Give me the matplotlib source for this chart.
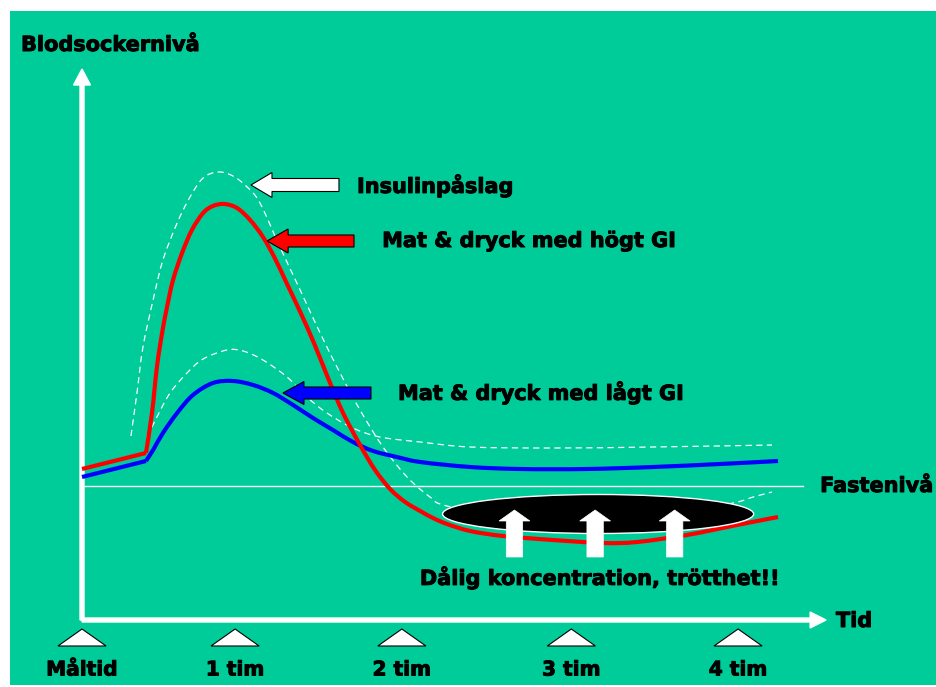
import matplotlib
matplotlib.use('Agg')
import matplotlib.pyplot as plt
import matplotlib.patches as mpatches
import matplotlib.patheffects as pe
from matplotlib.path import Path

# time in minutes after the meal, blood sugar in arbitrary units above the time axis
red_t = [0, 23.4, 25.6, 27.4, 29.3, 31.1, 33.3, 36.6, 40.2, 44.3, 47.9, 52.0, 56.7, 61.5,
         66.2, 70.5, 75.0, 80.0, 85.0, 90.0, 95.5, 101.7, 107.2, 112.7, 118.2, 123.7,
         128.4, 133.5, 142.0, 154.0, 172.3, 190.6, 203.0, 221.3, 239.6, 254.6]
red_y = [151, 167, 207, 253, 287, 313, 340, 367, 390, 407, 414, 416, 412, 400,
         383, 362, 336, 307, 276, 242, 207, 175, 150, 131, 118, 109,
         102, 96, 89, 84, 80, 77, 78, 85, 95, 103]

blue_t = [0, 23.4, 26.0, 29.6, 34.8, 40.6, 47.9, 55.2, 62.6, 69.9, 77.2, 84.5, 91.8,
          99.1, 106.5, 115.2, 123.7, 142.0, 160.2, 184.8, 208.9, 233.4, 254.6]
blue_y = [143, 159, 170, 187, 207, 225, 237, 239, 235, 227, 215, 202, 190,
          178, 169, 163, 158, 153, 151, 151, 153, 156, 159]

# insulin response, high GI (dashed)
ins_high_t = [17.9, 20.1, 22.3, 26.0, 29.6, 34.8, 39.5, 44.3, 49.8, 55.2, 60.4, 65.1,
              72.4, 79.8, 87.1, 94.4, 101.7, 110.1, 118.9, 127.3, 133.5, 160.2, 189.5,
              218.8, 238.2, 245.5, 252.4]
ins_high_y = [184, 227, 273, 320, 360, 397, 423, 442, 448, 444, 433, 417,
              373, 330, 287, 247, 210, 173, 143, 123, 114, 100, 95,
              108, 117, 123, 128]

# insulin response, low GI (dashed)
ins_low_t = [23.8, 27.4, 32.2, 38.4, 44.3, 53.0, 58.9, 66.2, 75.0, 82.3, 89.6, 99.1,
             109.0, 123.7, 142.0, 172.3, 208.9, 252.4]
ins_low_y = [183, 203, 227, 247, 261, 270, 269, 260, 243, 223, 207, 192,
             183, 178, 173, 172, 173, 175]

fasting_level = 134
fasting_end = 263.8

tick_pos = [0, 56, 117, 179, 240]
tick_labels = ['Måltid', '1 tim', '2 tim', '3 tim', '4 tim']

bold = dict(family='DejaVu Sans', fontweight='bold', color='black',
            path_effects=[pe.withStroke(linewidth=0.7, foreground='black')])


def smooth_path(xs, ys):
    # Catmull-Rom through the points, drawn as cubic bezier segments
    pts = list(zip(xs, ys))
    verts = [pts[0]]
    codes = [Path.MOVETO]
    n = len(pts)
    for i in range(n - 1):
        p0 = pts[max(i - 1, 0)]
        p1 = pts[i]
        p2 = pts[i + 1]
        p3 = pts[min(i + 2, n - 1)]
        c1 = (p1[0] + (p2[0] - p0[0]) / 6, p1[1] + (p2[1] - p0[1]) / 6)
        c2 = (p2[0] - (p3[0] - p1[0]) / 6, p2[1] - (p3[1] - p1[1]) / 6)
        verts += [c1, c2, p2]
        codes += [Path.CURVE4] * 3
    return Path(verts, codes)


def add_curve(ax, xs, ys, kink=None, **kw):
    if kink is not None:
        ax.plot(xs[:kink + 1], ys[:kink + 1], solid_capstyle='butt', **kw)
        xs, ys = xs[kink:], ys[kink:]
    patch = mpatches.PathPatch(smooth_path(xs, ys), facecolor='none', edgecolor=kw['color'],
                               lw=kw['lw'], ls=kw.get('ls', '-'), zorder=kw['zorder'],
                               joinstyle='round', capstyle='butt')
    ax.add_patch(patch)


fig = plt.figure(figsize=(9.36, 6.87), dpi=100)
ax = fig.add_axes([0, 0, 1, 1])
ax.set_xlim(-30.0, 312.4)
ax.set_ylim(-67, 620)
ax.axis('off')

# green background panel
ax.add_patch(mpatches.Rectangle((10 / 936, 2 / 687), 1 - 10 / 936, 674 / 687,
                                transform=ax.transAxes, facecolor='#00CC99',
                                edgecolor='none', zorder=0))

# axes arrows
ax.add_patch(mpatches.FancyArrow(0, 0, 0, 551, width=1.46, head_width=6.2, head_length=16,
                                 length_includes_head=True, color='white', zorder=3))
ax.add_patch(mpatches.FancyArrow(0, 0, 272.2, 0, width=4, head_width=16, head_length=5.85,
                                 length_includes_head=True, color='white', zorder=3))

# fasting level
ax.plot([0, fasting_end], [fasting_level, fasting_level], color='white', lw=1.0, zorder=2)

# insulin dashed lines
add_curve(ax, ins_high_t, ins_high_y, color='white', lw=0.9, ls=(0, (5, 3.5)), zorder=2)
add_curve(ax, ins_low_t, ins_low_y, color='white', lw=0.9, ls=(0, (5, 3.5)), zorder=2)

# blood sugar curves
add_curve(ax, blue_t, blue_y, kink=1, color='#0000FF', lw=3, zorder=4)
add_curve(ax, red_t, red_y, kink=1, color='#FF0000', lw=3, zorder=4)

# black ellipse with the "tired" arrows
ax.add_patch(mpatches.Ellipse((188.8, 106), 113.8, 39, facecolor='black',
                              edgecolor='white', lw=1, zorder=5))
for xc in [158.2, 187.7, 216.8]:
    ax.add_patch(mpatches.FancyArrow(xc, 63, 0, 47, width=6.0, head_width=11.3,
                                     head_length=11, length_includes_head=True,
                                     facecolor='white', edgecolor='white', lw=0.5, zorder=6))

# left pointing labelled arrows
for tip, tail, yc, w, hw, col in [(61.8, 94.0, 435, 13, 25, 'white'),
                                   (67.7, 99.5, 379, 12, 24, '#FF0000'),
                                   (73.5, 105.7, 227, 12, 23, '#0000FF')]:
    ax.add_patch(mpatches.FancyArrow(tail, yc, tip - tail, 0, width=w, head_width=hw,
                                     head_length=7.7, length_includes_head=True,
                                     facecolor=col, edgecolor='black', lw=0.8, zorder=6))

ax.text(100.6, 435, 'Insulinpåslag', fontsize=15, ha='left', va='center', **bold)
ax.text(109.8, 379, 'Mat & dryck med högt GI', fontsize=15, ha='left', va='center', **bold)
ax.text(115.6, 228, 'Mat & dryck med lågt GI', fontsize=15, ha='left', va='center', **bold)
ax.text(-22.3, 575, 'Blodsockernivå', fontsize=15, ha='left', va='center', **bold)
ax.text(270, fasting_level, 'Fastenivå', fontsize=15, ha='left', va='center', **bold)
ax.text(275.8, -1, 'Tid', fontsize=15, ha='left', va='center', **bold)
ax.text(189.5, 43, 'Dålig koncentration, trötthet!!', fontsize=15, ha='center',
        va='center', **bold)

# tick triangles and labels
for t, lab in zip(tick_pos, tick_labels):
    ax.add_patch(mpatches.Polygon([(t - 8.8, -26), (t + 8.8, -26), (t, -9)], closed=True,
                                  facecolor='white', edgecolor='black', lw=0.8, zorder=3))
    ax.text(t, -50, lab, fontsize=14.5, ha='center', va='center', **bold)

fig.savefig('out.png', dpi=100)
